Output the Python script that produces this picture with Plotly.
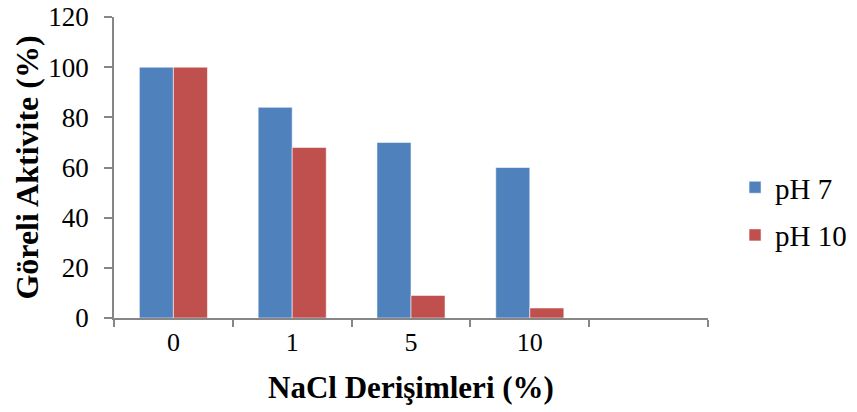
import plotly.graph_objects as go

# NaCl concentrations (the fifth slot is an empty category)
categories = ["0", "1", "5", "10", " "]
ph7_values = [100, 84, 70, 60, None]
ph10_values = [100, 68, 9, 4, None]
y_ticks = [0, 20, 40, 60, 80, 100, 120]

SERIF = "Liberation Serif, Times New Roman, serif"
AXIS_GREY = "#868686"

fig = go.Figure()
fig.add_trace(go.Bar(
    x=categories, y=ph7_values, name="pH 7", legendgroup="a",
    marker=dict(color="#4F81BD", line=dict(color="rgba(255,255,255,0.55)", width=1)),
))
fig.add_trace(go.Bar(
    x=categories, y=ph10_values, name="pH 10", legendgroup="b",
    marker=dict(color="#C0504D", line=dict(color="rgba(255,255,255,0.55)", width=1)),
))

fig.update_layout(
    width=857, height=412,
    margin=dict(l=114, r=149, t=17, b=94),
    paper_bgcolor="white", plot_bgcolor="white",
    barmode="group", bargap=0.427, bargroupgap=0,
    font=dict(family=SERIF, color="black", size=24),
    showlegend=True,
    legend=dict(
        xref="container", yref="container",
        x=0.8577, y=0.487, xanchor="left", yanchor="middle",
        font=dict(family=SERIF, size=29, color="black"),
        traceorder="grouped", tracegroupgap=7,
        bgcolor="rgba(0,0,0,0)", borderwidth=0,
    ),
)

fig.update_xaxes(
    type="category", categoryorder="array", categoryarray=categories,
    range=[-0.5, 4.5], tickson="boundaries", automargin=False,
    showline=True, linecolor=AXIS_GREY, linewidth=1.5,
    ticks="outside", ticklen=7, tickcolor=AXIS_GREY, tickwidth=1.5,
    showgrid=False, zeroline=False,
    tickfont=dict(family=SERIF, size=26, color="black"),
    title=dict(text="<b>NaCl Derişimleri (%)</b>", standoff=20,
               font=dict(family=SERIF, size=31, color="black")),
)
fig.update_yaxes(
    range=[0, 120], tickvals=y_ticks, automargin=False,
    showline=True, linecolor=AXIS_GREY, linewidth=1.5,
    ticks="outside", ticklen=8, tickcolor=AXIS_GREY, tickwidth=1.5,
    ticklabelstandoff=10,
    showgrid=False, zeroline=False,
    tickfont=dict(family=SERIF, size=27, color="black"),
    title=dict(text="<b>Göreli Aktivite (%)</b>", standoff=0,
               font=dict(family=SERIF, size=32, color="black")),
)

fig.write_html("out.html")
